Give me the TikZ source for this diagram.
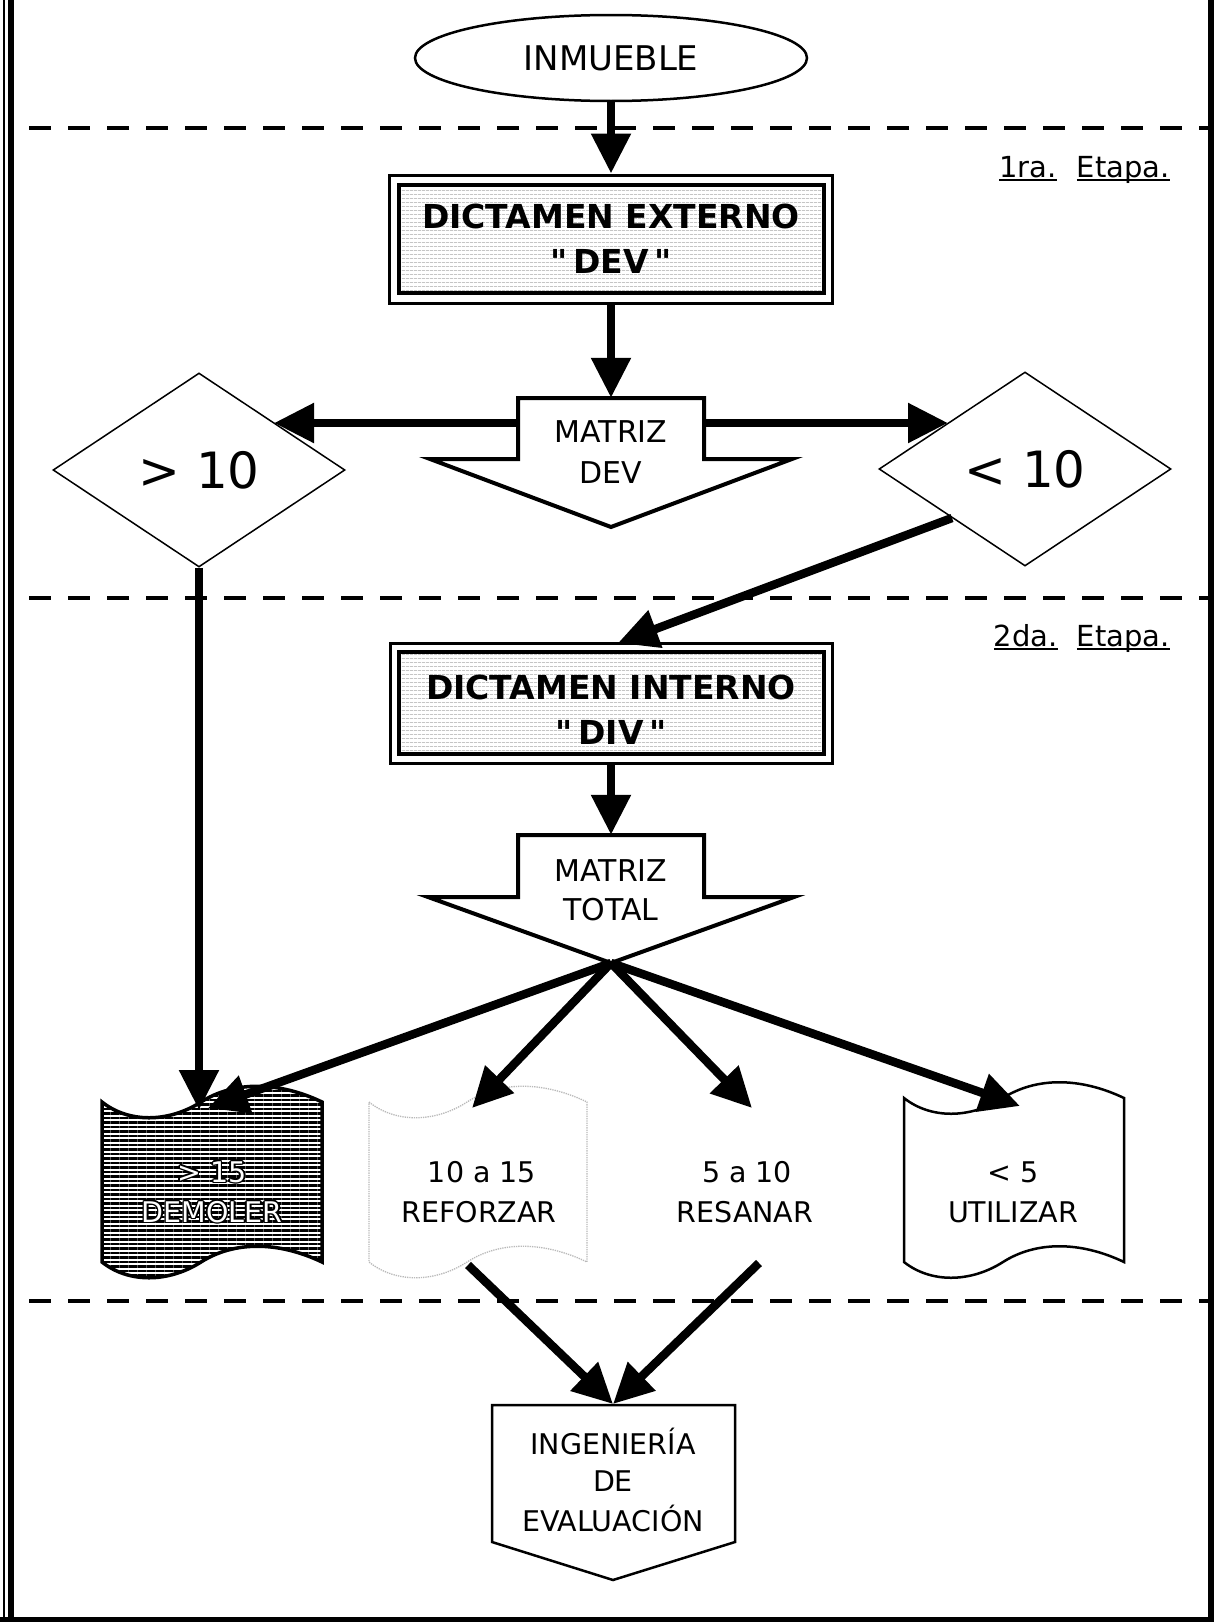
\documentclass[tikz,border=0pt]{standalone}
\usepackage{fontspec}
\setmainfont{DejaVu Sans}
\usetikzlibrary{arrows.meta,shapes.geometric,patterns.meta}
\newcommand\tapeshape[5]{%
  \path[#1] (#2,#3)
    .. controls ({#2+0.12*#4},{#3+21}) and ({#2+0.3*#4},{#3+21}) .. ({#2+0.45*#4},#3)
    .. controls ({#2+0.6*#4},{#3-21}) and ({#2+0.8*#4},{#3-21}) .. ({#2+#4},#3)
    -- ({#2+#4},#5)
    .. controls ({#2+0.8*#4},{#5-21}) and ({#2+0.6*#4},{#5-21}) .. ({#2+0.45*#4},#5)
    .. controls ({#2+0.3*#4},{#5+21}) and ({#2+0.12*#4},{#5+21}) .. (#2,#5)
    -- cycle;}
\newcommand\dq{\XeTeXglyph\XeTeXcharglyph"22\relax}
\begin{document}
\begin{tikzpicture}[x=1pt,y=-1pt,
  big/.style={line width=8.5pt,-{Triangle[length=40pt,width=38pt]}},
  sepline/.style={line width=4.5pt,dash pattern=on 22pt off 17pt},
  lbl/.style={font=\fontsize{28.5}{33}\selectfont,inner sep=0},
  mlbl/.style={font=\fontsize{30}{34}\selectfont,inner sep=0},
  dlbl/.style={font=\bfseries\fontsize{33}{38}\selectfont,inner sep=0},
  elbl/.style={font=\fontsize{29}{34}\selectfont,inner sep=0},
  texture/.style={pattern={Lines[angle=0,distance=4pt,line width=0.7pt]},pattern color=gray!70},
  ghost/.style={inner sep=0,draw=none},
  uline/.style={line width=2.5pt}
]
\useasboundingbox (0,0) rectangle (1214,1622);
\fill[white] (0,0) rectangle (1214,1622);

% frame
\coordinate (fA) at (4,0);    \coordinate (fB) at (4,1622);
\coordinate (fC) at (11,0);   \coordinate (fD) at (11,1622);
\coordinate (fE) at (1211,0); \coordinate (fF) at (1211,1622);
\coordinate (fG) at (0,1619); \coordinate (fH) at (1214,1619);
\draw[line width=1.2pt] (fA) -- (fB);
\draw[line width=6pt] (fC) -- (fD);
\draw[line width=6pt] (fE) -- (fF);
\draw[line width=5pt] (fG) -- (fH);

% stage separators
\coordinate (d1a) at (29,128);  \coordinate (d1b) at (1208,128);
\coordinate (d2a) at (29,598);  \coordinate (d2b) at (1208,598);
\coordinate (d3a) at (29,1301); \coordinate (d3b) at (1208,1301);
\draw[sepline] (d1a) -- (d1b);
\draw[sepline] (d2a) -- (d2b);
\draw[sepline] (d3a) -- (d3b);

% stage labels
\node[elbl,anchor=base east] (e1b) at (1170,177) {Etapa.};
\node[elbl,anchor=base east] (e1a) at (1057,177) {1ra.};
\draw[uline] ([yshift=-3pt]e1a.base west) -- ([yshift=-3pt]e1a.base east);
\draw[uline] ([yshift=-3pt]e1b.base west) -- ([yshift=-3pt]e1b.base east);
\node[elbl,anchor=base east] (e2b) at (1170,646) {Etapa.};
\node[elbl,anchor=base east] (e2a) at (1058,646) {2da.};
\draw[uline] ([yshift=-3pt]e2a.base west) -- ([yshift=-3pt]e2a.base east);
\draw[uline] ([yshift=-3pt]e2b.base west) -- ([yshift=-3pt]e2b.base east);

% INMUEBLE
\node[ellipse,draw,line width=2.5pt,minimum width=392pt,minimum height=86pt,inner sep=0,
      font=\fontsize{34}{40}\selectfont] (inm) at (611,58) {INMUEBLE};

% DICTAMEN EXTERNO
\node[draw,line width=3pt,minimum width=443pt,minimum height=128pt,inner sep=0] (dev) at (611,239) {};
\node[draw,line width=4pt,minimum width=425pt,minimum height=108pt,inner sep=0,texture] (devin) at (611,239) {};
\node[dlbl] (devt1) at (611,216) {DICTAMEN EXTERNO};
\node[dlbl] (devt2) at (611,261) {\dq\,DEV\,\dq};

% MATRIZ DEV
\path[draw,line width=4pt,fill=white,line join=miter]
  (518,398) -- (704,398) -- (704,459) -- (792,459) -- (611,527) -- (430,459) -- (518,459) -- cycle;
\node[ghost,minimum width=186pt,minimum height=61pt] (mdev) at (611,428.5) {};
\node[mlbl] (mdevt1) at (611,432) {MATRIZ};
\node[mlbl] (mdevt2) at (611,473) {DEV};

% diamonds
\node[diamond,draw,line width=1.5pt,minimum width=292pt,minimum height=194pt,inner sep=0,
      font=\fontsize{50}{56}\selectfont] (gt) at (199,470) {> 10};
\node[diamond,draw,line width=1.5pt,minimum width=292pt,minimum height=194pt,inner sep=0,
      font=\fontsize{50}{56}\selectfont] (lt) at (1025,469) {< 10};

% DICTAMEN INTERNO
\node[draw,line width=3pt,minimum width=442pt,minimum height=120pt,inner sep=0] (div) at (611,703) {};
\node[draw,line width=4pt,minimum width=425pt,minimum height=102pt,inner sep=0,texture] (divin) at (611,703) {};
\node[dlbl] (divt1) at (611,687) {DICTAMEN INTERNO};
\node[dlbl] (divt2) at (611,732) {\dq\,DIV\,\dq};

% MATRIZ TOTAL
\path[draw,line width=4pt,fill=white,line join=miter]
  (518,835) -- (704,835) -- (704,897) -- (794,897) -- (611,963) -- (428,897) -- (518,897) -- cycle;
\node[ghost,minimum width=186pt,minimum height=62pt] (mtot) at (611,866) {};
\node[mlbl] (mtott1) at (611,871) {MATRIZ};
\node[mlbl] (mtott2) at (611,910) {TOTAL};

% result documents
\tapeshape{draw,line width=3.5pt,pattern={Lines[angle=0,distance=4.5pt,line width=2.2pt]},pattern color=black}{102}{1102}{220}{1262}
\tapeshape{draw=gray!55,line width=1.3pt,densely dotted}{369}{1102}{218}{1262}
\tapeshape{draw,line width=2.5pt,fill=white}{904}{1098}{220}{1262}
\node[ghost,minimum width=220pt,minimum height=160pt] (dem) at (212,1182) {};
\node[ghost,minimum width=218pt,minimum height=160pt] (ref) at (478,1182) {};
\node[ghost,minimum width=218pt,minimum height=160pt] (res) at (747,1182) {};
\node[ghost,minimum width=220pt,minimum height=160pt] (uti) at (1014,1182) {};

\foreach \dx/\dy [count=\i] in {-1.6/0,1.6/0,0/-1.6,0/1.6,-1.2/-1.2,1.2/1.2,-1.2/1.2,1.2/-1.2}{
  \node[lbl,text=black] (demsa\i) at ([xshift=\dx pt,yshift=\dy pt]dem.center |- 0,1172) {> 15};
  \node[lbl,text=black] (demsb\i) at ([xshift=\dx pt,yshift=\dy pt]dem.center |- 0,1212) {DEMOLER};
}
\node[lbl,text=white] (demt1) at (dem.center |- 0,1172) {> 15};
\node[lbl,text=white] (demt2) at (dem.center |- 0,1212) {DEMOLER};
\node[lbl] (reft1) at (482,1172) {10 a 15};
\node[lbl] (reft2) at (479,1212) {REFORZAR};
\node[lbl] (rest1) at (747,1172) {5 a 10};
\node[lbl] (rest2) at (745,1212) {RESANAR};
\node[lbl] (utit1) at (1013,1172) {< 5};
\node[lbl] (utit2) at (1013,1212) {UTILIZAR};

% INGENIERIA DE EVALUACION
\path[draw,line width=2.5pt,fill=white,line join=miter]
  (492,1405) -- (735,1405) -- (735,1542) -- (613,1580) -- (492,1542) -- cycle;
\node[ghost,minimum width=243pt,minimum height=137pt] (ing) at (613,1473.5) {};
\node[lbl] (ingt1) at (613,1441) {INGENIERÍA};
\node[lbl] (ingt2) at (613,1481) {DE};
\node[lbl] (ingt3) at (613,1518) {EVALUACIÓN};

% connector points
\coordinate (mdevL) at (518,423);
\coordinate (mdevR) at (704,423);
\coordinate (gtHit) at (274,423);
\coordinate (ltHit) at (948,423);
\coordinate (ltOut) at (952,518);
\coordinate (divHit) at (618,643);
\coordinate (mtTip) at (611,963);
\coordinate (demIn) at (199,1110);
\coordinate (demIn2) at (208,1108);
\coordinate (refIn) at (472,1108);
\coordinate (resIn) at (752,1108);
\coordinate (utiIn) at (1020,1106);
\coordinate (refOut) at (468,1265);
\coordinate (resOut) at (759,1263);
\coordinate (ingTop) at (613,1404);

% connectors
\draw[big] (inm.south) -- (dev.north);
\draw[big] (dev.south) -- (mdev.north);
\draw[big] (mdevL) -- (gtHit);
\draw[big] (mdevR) -- (ltHit);
\draw[big] (ltOut) -- (divHit);
\draw[big] (gt.south) -- (demIn);
\draw[big] (div.south) -- (mtot.north);
\draw[big] (mtTip) -- (demIn2);
\draw[big] (mtTip) -- (refIn);
\draw[big] (mtTip) -- (resIn);
\draw[big] (mtTip) -- (utiIn);
\draw[big] (refOut) -- (ingTop);
\draw[big] (resOut) -- (ingTop);
\end{tikzpicture}
\end{document}
